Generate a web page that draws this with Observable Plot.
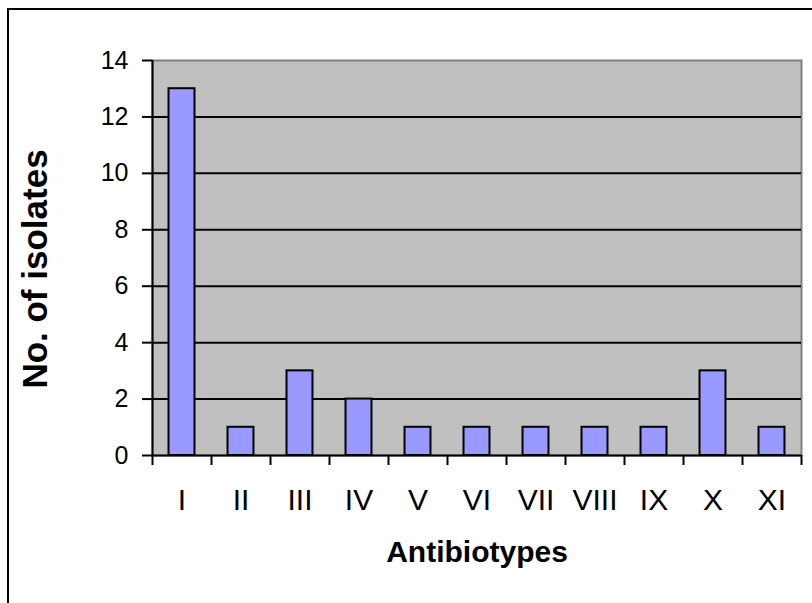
<!DOCTYPE html>
<html><head><meta charset="utf-8">
<script src="https://cdn.jsdelivr.net/npm/d3@7"></script>
<script src="https://cdn.jsdelivr.net/npm/@observablehq/plot@0.6"></script>
<style>
body{margin:0;background:#fff;}
#wrap{position:relative;width:812px;height:603px;overflow:hidden;}
#border{position:absolute;left:7px;top:8px;width:900px;height:700px;border-left:2px solid #000;border-top:2px solid #000;pointer-events:none;}
#chart{position:absolute;left:0;top:0;}
</style></head><body><div id="wrap"><div id="chart"></div><div id="border"></div></div>
<script>
const categories = ["I","II","III","IV","V","VI","VII","VIII","IX","X","XI"];
const counts = [13,1,3,2,1,1,1,1,1,3,1];
const yTicks = [0,2,4,6,8,10,12,14];
const gridLines = [2,4,6,8,10,12];
const xTitle = "Antibiotypes";
const yTitle = "No. of isolates";

const data = categories.map((c, i) => ({cat: c, i, count: counts[i]}));
const half = 0.22;

const plot = Plot.plot({
  width: 812, height: 603,
  marginLeft: 152, marginRight: 11, marginTop: 60, marginBottom: 148,
  style: {fontFamily: "'Liberation Sans', Arial, sans-serif", background: "transparent", color: "#000", overflow: "visible"},
  x: {domain: [0, categories.length]},
  y: {domain: [0, 14]},
  marks: [
    Plot.frame({fill: "#c0c0c0", stroke: "#808080", strokeWidth: 2}),
    Plot.ruleY(gridLines, {stroke: "#000", strokeWidth: 2}),
    Plot.rectY(data, {x1: d => d.i + 0.5 - half, x2: d => d.i + 0.5 + half, y1: 0, y2: "count", fill: "#9999ff", stroke: "#000", strokeWidth: 2}),
    Plot.axisY({ticks: yTicks, tickSize: 10, tickPadding: 14, fontSize: 25, tickFormat: d => String(d), label: null, strokeWidth: 2}),
    Plot.axisX({ticks: d3.range(0, categories.length + 1), tickSize: 10, tickFormat: () => "", label: null, strokeWidth: 2}),
    Plot.axisX({ticks: categories.map((c, i) => i + 0.5), tickSize: 0, tickPadding: 33, tickFormat: v => categories[Math.floor(v)], fontSize: 30, label: null}),
    Plot.ruleX([0], {stroke: "#000", strokeWidth: 2}),
    Plot.ruleY([0], {stroke: "#000", strokeWidth: 2}),
    Plot.text([xTitle], {text: d => d, frameAnchor: "bottom", lineAnchor: "middle", dy: 97, fontWeight: "bold", fontSize: 30}),
    Plot.text([yTitle], {text: d => d, frameAnchor: "left", textAnchor: "middle", lineAnchor: "middle", rotate: -90, dx: -117, dy: 11, fontWeight: "bold", fontSize: 35})
  ]
});
document.getElementById("chart").appendChild(plot);
</script>
</body></html>
